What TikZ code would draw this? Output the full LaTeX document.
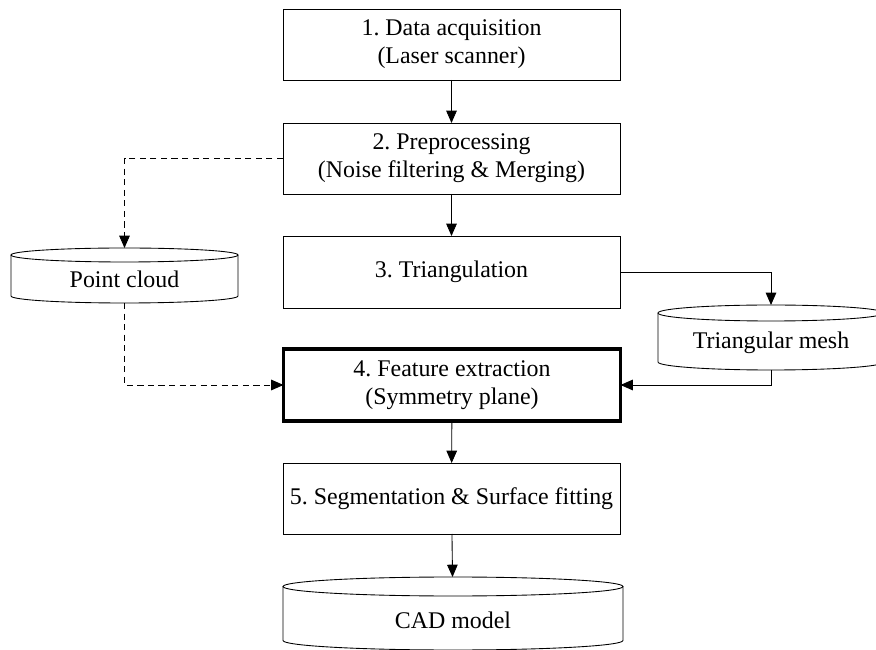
\documentclass[tikz,border=0pt]{standalone}
\usepackage{fontspec}
\setmainfont{Liberation Serif}
\usetikzlibrary{arrows.meta}
\frenchspacing

% drum-shaped store: node name, half width, y radius of the ends
\newcommand{\drum}[3]{%
  \draw[line width=0.5pt] ([yshift=-#3]#1.north west) -- ([yshift=#3]#1.south west)
    arc[start angle=180, end angle=360, x radius=#2, y radius=#3]
    -- ([yshift=-#3]#1.north east);
  \draw[line width=0.5pt] ([yshift=-#3]#1.north) ellipse [x radius=#2, y radius=#3];}
\newcommand{\lowtext}[2]{\raisebox{-#1}[\height][\depth]{#2}}

\begin{document}
\begin{tikzpicture}[font=\fontsize{13.6}{16}\selectfont,
  box/.style={draw, line width=0.5pt, minimum width=6.74cm, minimum height=1.42cm,
    align=center, inner sep=0pt, outer sep=0pt},
  keybox/.style={box, line width=2pt, minimum height=1.44cm},
  store/.style={inner sep=0pt, outer sep=0pt, align=center},
  flow/.style={line width=0.5pt, -{Triangle[length=7pt, width=6pt]}},
  dashflow/.style={flow, dash pattern=on 3.5pt off 2.5pt}]
\useasboundingbox (0,0) rectangle (17.52,-13);

% process steps
\node[box] (acq) at (9.03,-0.89) {1. Data acquisition\\(Laser scanner)};
\node[box] (pre) at (9.03,-3.17) {2. Preprocessing\\(Noise filtering \& Merging)};
\node[box, minimum height=1.44cm] (tri) at (9.03,-5.44) {3. Triangulation};
\node[keybox] (feat) at (9.04,-7.70) {4. Feature extraction\\(Symmetry plane)};
\node[box] (seg) at (9.03,-9.97) {5. Segmentation \& Surface fitting};

% data stores
\node[store, minimum width=4.54cm, minimum height=1.10cm] (cloud) at (2.49,-5.51) {\lowtext{2pt}{Point cloud}};
\drum{cloud}{2.27cm}{0.14cm}
\node[store, minimum width=4.52cm, minimum height=1.30cm] (mesh) at (15.42,-6.75) {\lowtext{3pt}{Triangular mesh}};
\drum{mesh}{2.26cm}{0.16cm}
\node[store, minimum width=6.80cm, minimum height=1.46cm] (cad) at (9.06,-12.27) {\lowtext{4pt}{CAD model}};
\drum{cad}{3.40cm}{0.19cm}

% connectors
\draw[flow] (acq) -- (pre);
\draw[flow] (pre) -- (tri);
\draw[dashflow] (pre.west) -| (cloud.north);
\draw[dashflow] (cloud.south) |- (feat.west);
\draw[flow] (tri.east) -| (mesh.north);
\draw[flow] (mesh.south) |- (feat.east);
\draw[flow] (feat) -- (seg);
\draw[flow] (seg) -- (cad);
\end{tikzpicture}
\end{document}
